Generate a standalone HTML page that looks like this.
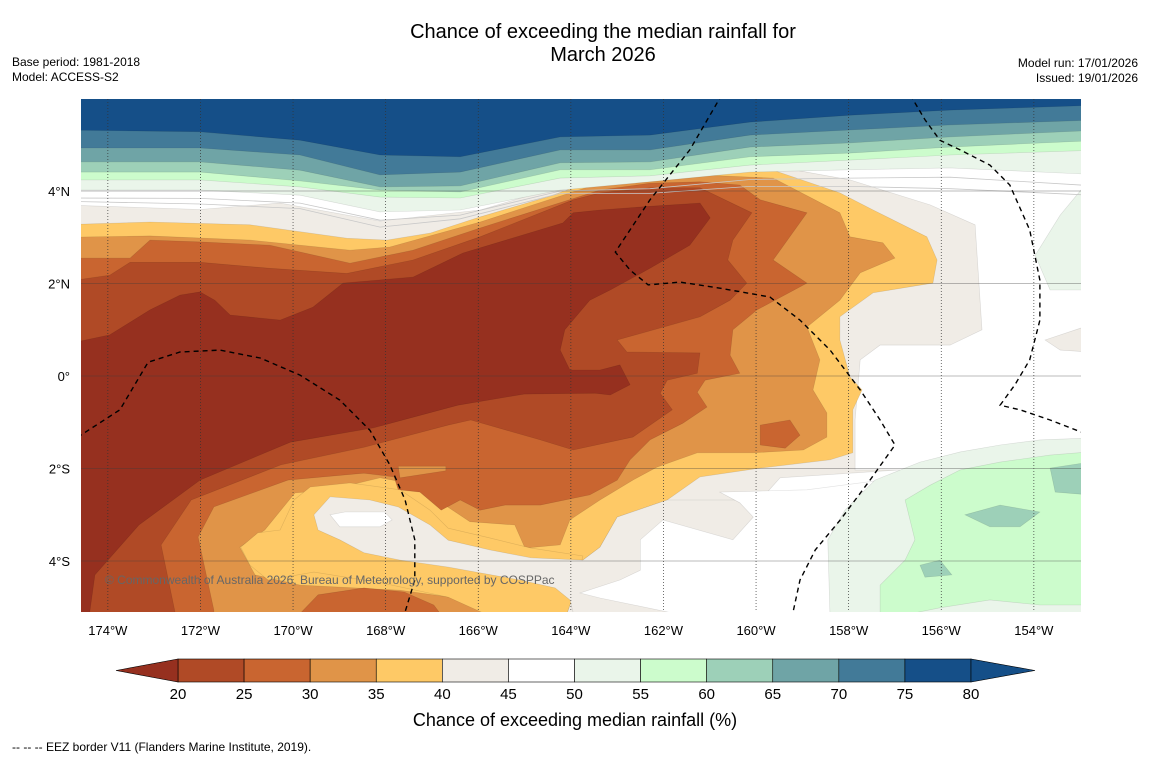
<!DOCTYPE html>
<html><head><meta charset="utf-8"><style>
html,body{margin:0;padding:0;background:#fff;}
svg{display:block;font-family:"Liberation Sans",sans-serif;}
</style></head><body>
<svg id="chart" width="1150" height="758" viewBox="0 0 1150 758">
<defs><clipPath id="mapclip"><rect x="81" y="99" width="1000" height="513"/></clipPath></defs>
<text x="603" y="38" text-anchor="middle" font-size="20">Chance of exceeding the median rainfall for</text>
<text x="603" y="61" text-anchor="middle" font-size="20">March 2026</text>
<text x="12" y="66" font-size="12">Base period: 1981-2018</text>
<text x="12" y="81" font-size="12">Model: ACCESS-S2</text>
<text x="1138" y="67" font-size="12" text-anchor="end">Model run: 17/01/2026</text>
<text x="1138" y="82" font-size="12" text-anchor="end">Issued: 19/01/2026</text>
<g id="map" clip-path="url(#mapclip)">
<rect x="81" y="99" width="1000" height="513" fill="#ffffff"/>
<g id="fills"></g>
<g id="lines"></g>
<g id="grid"></g>
<g id="eez"></g>
<text x="105" y="584" font-size="12" fill="#666">© Commonwealth of Australia 2026, Bureau of Meteorology, supported by COSPPac</text>
</g>
<g id="axes"></g>
<g id="cbar"></g>
<text x="575" y="726" text-anchor="middle" font-size="18">Chance of exceeding median rainfall (%)</text>
<text x="12" y="751" font-size="12">--  --  -- EEZ border V11 (Flanders Marine Institute, 2019).</text>
</svg>
<script>
const levelColors=["#96301f","#b04a26","#c96530","#e09448","#fec966","#f0ece6","#ffffff","#eaf5ea","#ccfccc","#9dd0b8","#6fa4a6","#427a98","#154f88"];
const levelTicks=[20,25,30,35,40,45,50,55,60,65,70,75,80];
const lonTicks=[-174,-172,-170,-168,-166,-164,-162,-160,-158,-156,-154];
const latTicks=[4,2,0,-2,-4];
const bandLons=[-175,-172.01,-169.85,-168.12,-166.39,-164.23,-162.29,-160.13,-157.97,-155.81,-152.5];
const band55=[4.02,4.02,3.91,3.55,3.59,4.02,4.20,4.41,4.46,4.50,4.35];
const band60=[4.24,4.24,4.09,3.87,3.85,4.28,4.33,4.56,4.67,4.78,4.89];
const band65=[4.41,4.41,4.22,4.02,3.98,4.46,4.46,4.74,4.82,4.95,5.10];
const band70=[4.63,4.63,4.45,4.09,4.11,4.61,4.63,4.95,5.04,5.17,5.32];
const band75=[4.93,4.93,4.78,4.35,4.41,4.89,4.89,5.21,5.32,5.43,5.54];
const band80=[5.32,5.28,5.10,4.78,4.74,5.17,5.21,5.49,5.64,5.75,5.86];
const line50=[3.85,3.84,3.74,3.37,3.48,4.00,4.05,4.25,4.28,4.30,4.10];
const line45=[3.78,3.72,3.62,3.22,3.40,3.95,3.95,4.10,4.10,4.05,3.90];
const poly45=[[-175,3.70],[-172.01,3.60],[-170.28,3.74],[-168.12,3.35],[-165.96,3.59],[-163.37,4.35],[-162.29,4.60],[-160.13,4.63],[-157.97,4.24],[-156.24,3.70],[-155.27,3.27],[-155.12,1.00],[-155.81,0.67],[-157.32,0.67],[-157.75,0.35],[-157.86,-0.95],[-157.86,-2.03],[-156.89,-2.03],[-159.48,-2.20],[-159.91,-2.68],[-159.97,-3.33],[-160.56,-3.54],[-161.21,-3.11],[-162.07,-2.68],[-162.50,-3.98],[-162.07,-4.84],[-159.48,-5.27],[-175,-5.27]];
const poly40=[[-175,3.27],[-173.09,3.33],[-170.93,3.27],[-168.84,2.98],[-167.97,2.94],[-167.04,3.09],[-165.96,3.44],[-164.51,3.87],[-163.37,4.28],[-162.29,4.46],[-160.78,4.56],[-159.63,4.45],[-158.19,3.96],[-157.47,3.59],[-156.31,3.01],[-156.09,2.51],[-156.18,2.01],[-157.47,1.80],[-158.19,1.28],[-158.19,0.78],[-157.97,-0.02],[-157.71,-0.30],[-157.91,-0.73],[-157.91,-1.66],[-158.40,-1.81],[-159.91,-1.99],[-161.21,-2.18],[-161.92,-2.68],[-163.00,-3.05],[-163.37,-3.70],[-163.74,-3.98],[-163.91,-4.63],[-164.13,-5.27],[-175,-5.27]];
const poly35=[[-175,3.00],[-173.09,3.03],[-170.93,2.94],[-168.77,2.72],[-167.91,2.79],[-165.96,3.33],[-163.37,4.17],[-162.29,4.35],[-160.78,4.33],[-159.63,4.28],[-158.19,3.53],[-157.97,3.01],[-157.26,2.88],[-157.00,2.55],[-157.75,2.23],[-158.19,1.64],[-158.90,1.06],[-158.62,0.35],[-158.77,-0.30],[-158.47,-0.80],[-158.47,-1.32],[-158.98,-1.60],[-160.06,-1.66],[-161.27,-1.66],[-162.14,-1.97],[-162.66,-2.25],[-163.37,-2.68],[-164.02,-3.11],[-164.23,-3.65],[-164.99,-3.72],[-165.21,-3.22],[-166.18,-3.15],[-166.72,-2.79],[-167.26,-2.36],[-168.12,-2.20],[-169.20,-2.46],[-169.96,-2.53],[-170.61,-3.33],[-171.15,-3.70],[-170.82,-4.30],[-169.85,-4.52],[-167.69,-4.63],[-166.18,-4.84],[-165.10,-5.10],[-165.10,-5.27],[-175,-5.27]];
const poly30=[[-175,2.55],[-173.52,2.55],[-173.09,2.94],[-172.01,2.90],[-170.50,2.83],[-168.77,2.44],[-167.41,2.72],[-165.96,3.20],[-163.37,4.02],[-162.29,4.17],[-161.21,4.20],[-160.35,4.13],[-159.91,3.81],[-158.90,3.53],[-159.63,2.51],[-158.90,2.01],[-159.98,1.43],[-160.50,1.00],[-160.56,0.45],[-160.35,0.06],[-161.10,-0.09],[-161.27,-0.35],[-161.06,-0.67],[-161.58,-1.02],[-162.29,-1.38],[-162.72,-1.81],[-163.00,-2.25],[-163.59,-2.57],[-164.66,-2.79],[-165.42,-2.79],[-165.96,-2.90],[-166.39,-2.68],[-166.80,-2.90],[-167.26,-2.51],[-167.73,-2.46],[-167.82,-2.18],[-168.47,-2.10],[-170.11,-2.25],[-171.71,-2.83],[-172.05,-3.48],[-171.71,-5.06],[-171.71,-5.27],[-175,-5.27]];
const poly25=[[-175,2.03],[-173.96,2.18],[-173.52,2.46],[-172.01,2.46],[-170.50,2.33],[-168.84,2.22],[-167.41,2.51],[-165.96,3.01],[-163.95,3.81],[-163.37,3.96],[-162.29,4.07],[-161.21,4.07],[-160.09,3.53],[-160.50,2.94],[-160.61,2.51],[-160.20,2.01],[-160.56,1.64],[-161.21,1.28],[-163.00,0.78],[-162.79,0.52],[-161.21,0.50],[-161.27,0.06],[-161.92,-0.09],[-162.07,-0.37],[-161.81,-0.73],[-162.66,-1.32],[-163.95,-1.60],[-164.66,-1.38],[-166.16,-0.95],[-166.65,-1.06],[-168.47,-1.54],[-170.26,-1.92],[-172.20,-2.68],[-172.85,-3.65],[-172.55,-5.10],[-172.55,-5.27],[-175,-5.27]];
const poly20=[[-175,0.67],[-173.96,0.89],[-173.09,1.43],[-172.44,1.75],[-172.01,1.82],[-171.69,1.64],[-171.36,1.32],[-170.28,1.21],[-169.57,1.49],[-168.92,2.01],[-167.41,2.14],[-166.33,2.66],[-164.17,3.31],[-163.95,3.53],[-163.37,3.59],[-162.29,3.67],[-161.21,3.74],[-160.99,3.42],[-161.43,2.83],[-162.29,2.33],[-163.15,1.86],[-163.59,1.64],[-164.13,1.00],[-164.23,0.56],[-164.02,0.13],[-163.37,0.13],[-162.94,0.24],[-162.72,-0.19],[-163.15,-0.41],[-163.48,-0.37],[-165.01,-0.39],[-166.44,-0.63],[-168.26,-1.12],[-170.06,-1.43],[-172.01,-2.25],[-173.33,-3.22],[-174.28,-4.30],[-174.39,-5.10],[-174.39,-5.27],[-175,-5.27]];
const patchStrip35=[[-167.73,-1.95],[-166.70,-1.95],[-166.70,-2.05],[-167.69,-2.20]];
const patchBlob30=[[-159.91,-1.06],[-159.27,-0.95],[-159.05,-1.28],[-159.37,-1.56],[-159.91,-1.49]];
const patchArm40=[[-171.13,-3.70],[-170.76,-3.39],[-170.28,-3.33],[-169.98,-2.68],[-169.63,-2.40],[-168.77,-2.31],[-167.69,-2.46],[-167.04,-2.90],[-166.65,-3.29],[-165.75,-3.50],[-164.86,-3.72],[-163.74,-3.89],[-163.91,-4.63],[-164.13,-5.27],[-165.57,-5.27],[-166.65,-4.78],[-168.10,-4.47],[-169.55,-4.24],[-170.54,-4.41],[-170.93,-4.09]];
const patchChannel45=[[-169.55,-3.00],[-169.20,-2.61],[-168.34,-2.68],[-167.73,-2.83],[-167.04,-3.22],[-166.65,-3.55],[-165.75,-3.76],[-164.86,-3.93],[-163.74,-3.98],[-163.37,-3.70],[-163.00,-3.05],[-161.92,-2.68],[-159.91,-2.68],[-159.91,-5.27],[-163.91,-5.27],[-164.02,-4.84],[-164.34,-4.58],[-165.10,-4.41],[-166.65,-4.13],[-167.69,-3.98],[-168.47,-3.82],[-168.99,-3.54],[-169.46,-3.33]];
const patchHole50=[[-169.20,-3.00],[-168.88,-2.94],[-168.02,-2.94],[-167.86,-3.11],[-168.12,-3.26],[-168.99,-3.26]];
const patchStrip30=[[-169.98,-5.27],[-169.46,-4.73],[-168.47,-4.58],[-167.60,-4.67],[-166.96,-4.95],[-166.72,-5.27]];
const whiteSouth=[[-162.50,-3.54],[-162.01,-3.11],[-160.50,-3.54],[-160.06,-3.05],[-160.35,-2.74],[-160.78,-2.51],[-158.90,-2.46],[-155.59,-2.03],[-152.8,-1.92],[-152.8,-5.27],[-161.21,-5.27],[-161.92,-5.10],[-163.37,-4.80],[-163.80,-4.69],[-162.94,-4.41],[-162.50,-4.20]];
const green55=[[-158.40,-5.27],[-158.45,-3.54],[-158.08,-2.90],[-157.43,-2.25],[-156.46,-1.86],[-155.59,-1.64],[-154.73,-1.49],[-153.87,-1.38],[-152.8,-1.34],[-152.8,-5.27]];
const green60=[[-157.32,-5.27],[-157.32,-4.52],[-156.78,-3.98],[-156.57,-3.54],[-156.78,-2.68],[-156.24,-2.36],[-155.59,-2.03],[-154.73,-1.86],[-153.65,-1.71],[-152.8,-1.64],[-152.8,-4.95],[-153.87,-4.95],[-154.95,-4.84],[-156.03,-5.01]];
const teal65a=[[-155.49,-3.00],[-154.73,-2.79],[-153.87,-2.94],[-154.30,-3.26],[-154.95,-3.26]];
const teal65b=[[-153.65,-1.99],[-152.8,-1.86],[-152.8,-2.57],[-153.54,-2.51]];
const teal65c=[[-156.46,-4.09],[-156.03,-3.98],[-155.77,-4.30],[-156.35,-4.35]];
const greenNE55=[[-152.8,4.24],[-153.43,3.48],[-153.97,2.61],[-153.65,1.86],[-152.8,1.86]];
const greyE45=[[-153.76,0.78],[-152.8,1.10],[-152.8,0.52],[-153.43,0.56]];
const eez1=[[-174.82,-1.43],[-173.74,-0.73],[-173.13,0.30],[-172.44,0.52],[-171.58,0.56],[-170.71,0.39],[-169.85,0.02],[-168.99,-0.52],[-168.34,-1.17],[-167.91,-1.92],[-167.58,-2.68],[-167.37,-3.54],[-167.37,-4.41],[-167.58,-5.10]];
const eez2=[[-160.74,6.08],[-161.43,4.89],[-162.29,3.81],[-163.04,2.68],[-162.72,2.29],[-162.33,1.97],[-161.64,2.03],[-160.78,1.90],[-159.70,1.71],[-159.05,1.21],[-158.40,0.56],[-157.75,-0.30],[-157.32,-0.95],[-157.00,-1.49],[-157.54,-2.25],[-158.18,-3.11],[-158.72,-3.76],[-159.05,-4.41],[-159.20,-5.10]];
const eez3=[[-156.67,6.08],[-156.35,5.54],[-156.03,5.10],[-155.59,4.89],[-154.95,4.56],[-154.52,4.13],[-154.09,3.16],[-153.87,2.07],[-153.87,1.21],[-154.09,0.35],[-154.41,-0.19],[-154.73,-0.63],[-154.30,-0.73],[-153.65,-0.95],[-152.98,-1.21]];

const NS="http://www.w3.org/2000/svg";
const X=lon=>81+(lon+174.58)*46.3;
const Y=lat=>99+(5.99-lat)*46.25;
const pts=arr=>arr.map(p=>X(p[0]).toFixed(1)+","+Y(p[1]).toFixed(1)).join(" ");
const fills=document.getElementById("fills");
function addPoly(arr,level,name){
  const el=document.createElementNS(NS,"polygon");
  el.setAttribute("points",pts(arr));
  el.setAttribute("fill",levelColors[level]);
  el.setAttribute("stroke","rgba(0,0,0,0.12)");
  el.setAttribute("stroke-width","0.6");
  
  
  fills.appendChild(el);
}
function bandPoly(lats){
  const a=[[-175,6.5],[-152.5,6.5]];
  for(let i=bandLons.length-1;i>=0;i--)a.push([bandLons[i],lats[i]]);
  return a;
}
addPoly(poly45,5,"region-40-45");
addPoly(greyE45,5,"region-40-45-east");
addPoly(greenNE55,7,"region-55-60-northeast");
addPoly(poly40,4,"region-35-40");
addPoly(poly35,3,"region-30-35");
addPoly(poly30,2,"region-25-30");
addPoly(poly25,1,"region-20-25");
addPoly(poly20,0,"region-below-20");
addPoly(patchStrip35,3,"region-30-35-strip");
addPoly(patchBlob30,2,"region-25-30-blob");
addPoly(patchArm40,4,"region-35-40-arm");
addPoly(patchChannel45,5,"region-40-45-channel");
addPoly(patchHole50,6,"region-45-55-hole");
addPoly(patchStrip30,2,"region-25-30-strip");
addPoly(whiteSouth,6,"region-45-55-south");
addPoly(green55,7,"region-55-60-southeast");
addPoly(green60,8,"region-60-65-southeast");
addPoly(teal65a,9,"region-65-70-a");
addPoly(teal65b,9,"region-65-70-b");
addPoly(teal65c,9,"region-65-70-c");
addPoly(bandPoly(band55),7,"band-55-60");
addPoly(bandPoly(band60),8,"band-60-65");
addPoly(bandPoly(band65),9,"band-65-70");
addPoly(bandPoly(band70),10,"band-70-75");
addPoly(bandPoly(band75),11,"band-75-80");
addPoly(bandPoly(band80),12,"band-above-80");

const lines=document.getElementById("lines");
[line50,line45].forEach((ls,k)=>{
  const el=document.createElementNS(NS,"polyline");
  el.setAttribute("points",pts(bandLons.map((l,i)=>[l,ls[i]])));
  el.setAttribute("fill","none");el.setAttribute("stroke","#c8c8c8");el.setAttribute("stroke-width","0.8");
  
  
  lines.appendChild(el);
});

const grid=document.getElementById("grid"),axes=document.getElementById("axes");
lonTicks.forEach(l=>{
  const x=X(l);
  const ln=document.createElementNS(NS,"line");
  ln.setAttribute("x1",x);ln.setAttribute("x2",x);ln.setAttribute("y1",99);ln.setAttribute("y2",612);
  ln.setAttribute("stroke","#333");ln.setAttribute("stroke-width","0.7");ln.setAttribute("stroke-dasharray","1,2");
  
  
  grid.appendChild(ln);
  const t=document.createElementNS(NS,"text");
  t.setAttribute("x",x);t.setAttribute("y",635);t.setAttribute("text-anchor","middle");t.setAttribute("font-size","13");
  t.textContent=Math.abs(l)+"°W";
  
  
  axes.appendChild(t);
});
latTicks.forEach(l=>{
  const y=Y(l);
  const ln=document.createElementNS(NS,"line");
  ln.setAttribute("x1",81);ln.setAttribute("x2",1081);ln.setAttribute("y1",y);ln.setAttribute("y2",y);
  ln.setAttribute("stroke","rgba(60,60,60,0.35)");ln.setAttribute("stroke-width","1");
  
  
  grid.appendChild(ln);
  const t=document.createElementNS(NS,"text");
  t.setAttribute("x",70);t.setAttribute("y",y+5);t.setAttribute("text-anchor","end");t.setAttribute("font-size","13");
  t.textContent=l===0?"0°":Math.abs(l)+"°"+(l>0?"N":"S");
  
  
  axes.appendChild(t);
});

const eez=document.getElementById("eez");
[eez1,eez2,eez3].forEach(arr=>{
  const el=document.createElementNS(NS,"polyline");
  el.setAttribute("points",pts(arr));
  el.setAttribute("fill","none");el.setAttribute("stroke","#000");el.setAttribute("stroke-width","1.4");el.setAttribute("stroke-dasharray","5,4");
  
  
  eez.appendChild(el);
});

const cb=document.getElementById("cbar");
const CX=v=>178+(v-20)*(793/60);
const cy0=659,cy1=682;
for(let i=0;i<levelTicks.length-1;i++){
  const r=document.createElementNS(NS,"rect");
  r.setAttribute("x",CX(levelTicks[i]));r.setAttribute("y",cy0);
  r.setAttribute("width",CX(levelTicks[i+1])-CX(levelTicks[i]));r.setAttribute("height",cy1-cy0);
  r.setAttribute("fill",levelColors[i+1]);r.setAttribute("stroke","#000");r.setAttribute("stroke-width","0.6");
  
  
  cb.appendChild(r);
}
const tl=document.createElementNS(NS,"polygon");
tl.setAttribute("points",`116,${(cy0+cy1)/2} ${CX(20)},${cy0} ${CX(20)},${cy1}`);
tl.setAttribute("fill",levelColors[0]);tl.setAttribute("stroke","#000");tl.setAttribute("stroke-width","0.6");


cb.appendChild(tl);
const tr=document.createElementNS(NS,"polygon");
tr.setAttribute("points",`1035,${(cy0+cy1)/2} ${CX(80)},${cy0} ${CX(80)},${cy1}`);
tr.setAttribute("fill",levelColors[12]);tr.setAttribute("stroke","#000");tr.setAttribute("stroke-width","0.6");


cb.appendChild(tr);
levelTicks.forEach(v=>{
  const t=document.createElementNS(NS,"text");
  t.setAttribute("x",CX(v));t.setAttribute("y",699);t.setAttribute("text-anchor","middle");t.setAttribute("font-size","15");
  t.textContent=v;
  
  
  cb.appendChild(t);
});
</script>
</body></html>
